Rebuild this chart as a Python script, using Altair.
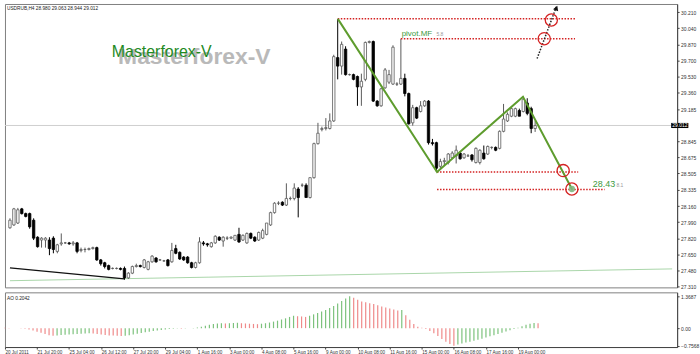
import altair as alt
import pandas as pd

# ---------------- data ----------------
opens = [27.93, 27.96, 27.98, 28.13, 28.08, 28.08, 28.01, 27.83, 27.80, 27.80,
         27.80, 27.82, 27.68, 27.76, 27.77, 27.77, 27.76, 27.77, 27.69, 27.70,
         27.70, 27.71, 27.72, 27.59, 27.56, 27.53, 27.50, 27.50, 27.50, 27.50,
         27.40, 27.45, 27.52, 27.53, 27.51, 27.49, 27.57, 27.61, 27.59, 27.58,
         27.59, 27.57, 27.71, 27.67, 27.62, 27.62, 27.56, 27.51, 27.56, 27.77,
         27.76, 27.73, 27.77, 27.83, 27.79, 27.82, 27.82, 27.80, 27.86, 27.80,
         27.77, 27.87, 27.83, 27.80, 27.82, 27.86, 27.96, 28.09, 28.19, 28.20,
         28.17, 28.24, 28.24, 28.34, 28.38, 28.38, 28.25, 28.46, 28.82, 28.97,
         28.98, 28.98, 29.06, 29.73, 29.64, 29.82, 29.55, 29.55, 29.53, 29.42,
         29.50, 29.89, 29.90, 29.27, 29.22, 29.41, 29.47, 29.45, 29.45, 29.45,
         29.51, 29.35, 29.04, 29.20, 29.16, 29.22, 29.27, 28.83, 28.83, 28.58,
         28.63, 28.62, 28.67, 28.69, 28.72, 28.67, 28.69, 28.70, 28.62, 28.62,
         28.72, 28.71, 28.78, 28.78, 28.77, 28.95, 29.06, 29.11, 29.11, 29.17,
         29.16, 29.25, 29.19, 28.98]
highs = [28.03, 28.14, 28.14, 28.14, 28.09, 28.09, 28.03, 27.84, 27.83, 27.83,
         27.83, 27.84, 27.76, 27.87, 27.78, 27.78, 27.79, 27.78, 27.72, 27.72,
         27.72, 27.73, 27.73, 27.60, 27.57, 27.54, 27.51, 27.51, 27.51, 27.52,
         27.46, 27.53, 27.55, 27.54, 27.60, 27.58, 27.64, 27.62, 27.60, 27.59,
         27.60, 27.77, 27.75, 27.68, 27.63, 27.63, 27.57, 27.57, 27.83, 27.79,
         27.77, 27.78, 27.85, 27.84, 27.84, 27.84, 27.84, 27.85, 27.93, 27.86,
         27.88, 27.88, 27.84, 27.89, 27.92, 27.98, 28.10, 28.20, 28.21, 28.21,
         28.40, 28.26, 28.40, 28.36, 28.40, 28.40, 28.46, 28.83, 29.04, 29.00,
         29.09, 29.14, 29.76, 30.14, 29.90, 29.85, 29.56, 29.56, 29.54, 29.56,
         29.90, 29.91, 29.91, 29.28, 29.41, 29.62, 29.60, 29.86, 29.47, 29.93,
         29.56, 29.36, 29.23, 29.21, 29.27, 29.28, 29.28, 28.87, 28.84, 28.66,
         28.67, 28.72, 28.74, 28.80, 28.74, 28.72, 28.71, 28.71, 28.78, 28.76,
         28.80, 28.80, 28.79, 28.79, 28.96, 29.24, 29.15, 29.20, 29.20, 29.19,
         29.32, 29.30, 29.21, 29.063]
lows = [27.92, 27.95, 27.97, 28.07, 28.04, 27.92, 27.80, 27.72, 27.72, 27.72,
        27.64, 27.66, 27.66, 27.74, 27.76, 27.75, 27.74, 27.66, 27.67, 27.67,
        27.69, 27.70, 27.58, 27.53, 27.50, 27.48, 27.49, 27.49, 27.48, 27.38,
        27.39, 27.44, 27.51, 27.51, 27.50, 27.48, 27.56, 27.56, 27.58, 27.57,
        27.52, 27.56, 27.65, 27.59, 27.58, 27.55, 27.50, 27.50, 27.55, 27.74,
        27.73, 27.72, 27.76, 27.79, 27.73, 27.80, 27.81, 27.79, 27.77, 27.79,
        27.76, 27.81, 27.78, 27.79, 27.81, 27.85, 27.95, 28.08, 28.17, 28.16,
        28.16, 28.22, 28.22, 28.04, 28.36, 28.25, 28.24, 28.45, 28.81, 28.95,
        28.96, 28.97, 29.05, 29.50, 29.55, 29.54, 29.54, 29.49, 29.22, 29.22,
        29.48, 29.88, 29.26, 29.21, 29.21, 29.40, 29.45, 29.44, 29.43, 29.44,
        29.32, 29.02, 29.01, 29.08, 29.15, 29.21, 28.81, 28.80, 28.52, 28.56,
        28.59, 28.60, 28.66, 28.61, 28.65, 28.66, 28.68, 28.63, 28.61, 28.60,
        28.65, 28.70, 28.76, 28.74, 28.76, 28.94, 29.05, 29.10, 29.10, 29.11,
        29.15, 29.12, 28.93, 28.944]
closes = [28.01, 28.13, 28.12, 28.08, 28.05, 27.94, 27.82, 27.73, 27.82, 27.82,
          27.71, 27.70, 27.75, 27.77, 27.77, 27.76, 27.77, 27.68, 27.70, 27.70,
          27.71, 27.72, 27.59, 27.55, 27.52, 27.49, 27.50, 27.50, 27.49, 27.40,
          27.45, 27.52, 27.53, 27.52, 27.59, 27.57, 27.63, 27.57, 27.59, 27.58,
          27.53, 27.69, 27.66, 27.60, 27.59, 27.56, 27.51, 27.56, 27.78, 27.76,
          27.75, 27.77, 27.84, 27.80, 27.83, 27.82, 27.83, 27.85, 27.78, 27.85,
          27.87, 27.82, 27.79, 27.88, 27.90, 27.98, 28.09, 28.19, 28.19, 28.17,
          28.24, 28.24, 28.35, 28.25, 28.38, 28.25, 28.46, 28.82, 28.93, 28.98,
          28.99, 29.06, 29.74, 29.64, 29.87, 29.55, 29.55, 29.50, 29.42, 29.48,
          29.89, 29.90, 29.27, 29.22, 29.40, 29.60, 29.55, 29.84, 29.45, 29.51,
          29.35, 29.03, 29.20, 29.09, 29.22, 29.27, 28.83, 28.82, 28.56, 28.63,
          28.64, 28.71, 28.72, 28.75, 28.66, 28.71, 28.69, 28.65, 28.77, 28.75,
          28.66, 28.79, 28.78, 28.75, 28.95, 29.08, 29.13, 29.19, 29.19, 29.11,
          29.29, 29.14, 28.98, 29.012]
ao_values = [0.02, 0.01, 0.0, -0.01, -0.02, -0.03, -0.06, -0.10, -0.15, -0.20,
             -0.25, -0.30, -0.33, -0.31, -0.29, -0.28, -0.27, -0.26, -0.25, -0.24,
             -0.23, -0.22, -0.23, -0.25, -0.27, -0.29, -0.31, -0.32, -0.33, -0.34,
             -0.33, -0.30, -0.27, -0.24, -0.21, -0.18, -0.15, -0.12, -0.10, -0.08,
             -0.06, -0.04, -0.03, -0.02, -0.025, -0.015, -0.005, 0.01, 0.03, 0.06,
             0.10, 0.14, 0.18, 0.20, 0.21, 0.20, 0.21, 0.22, 0.23, 0.21,
             0.20, 0.19, 0.18, 0.17, 0.19, 0.21, 0.24, 0.28, 0.32, 0.37,
             0.42, 0.48, 0.53, 0.51, 0.50, 0.48, 0.53, 0.59, 0.65, 0.71,
             0.78, 0.86, 0.95, 1.05, 1.16, 1.27, 1.3687, 1.30, 1.21, 1.14,
             1.11, 1.07, 1.03, 0.98, 0.93, 0.88, 0.84, 0.80, 0.76, 0.78,
             0.55, 0.36, 0.18, 0.06, 0.02, -0.04, -0.12, -0.22, -0.34, -0.46,
             -0.58, -0.68, -0.7568, -0.70, -0.66, -0.62, -0.58, -0.54, -0.50, -0.45,
             -0.40, -0.35, -0.30, -0.25, -0.20, -0.14, -0.09, -0.04, 0.02, 0.08,
             0.14, 0.19, 0.22, 0.2042]
date_labels = ["20 Jul 2011", "21 Jul 20:00", "25 Jul 04:00", "26 Jul 12:00",
               "27 Jul 20:00", "29 Jul 04:00", "1 Aug 16:00", "3 Aug 00:00",
               "4 Aug 08:00", "5 Aug 16:00", "9 Aug 00:00", "10 Aug 08:00",
               "11 Aug 16:00", "15 Aug 00:00", "16 Aug 08:00", "17 Aug 16:00",
               "19 Aug 00:00"]
price_ticks = [30.21, 30.04, 29.87, 29.70, 29.53, 29.36, 29.185, 28.845, 28.675,
               28.505, 28.335, 28.16, 27.99, 27.82, 27.65, 27.48, 27.31]
ao_ticks = [1.3687, 0.0, -0.7568]
last_price = [29.012]

# pattern annotations (bar index, price)
zig_bar = [83.03, 108.16, 129.92, 142.32]
zig_price = [30.14, 28.52, 29.315, 28.34]
lvl_from = [83.03, 99.0, 108.16, 108.16]
lvl_to = [143.1, 143.1, 143.9, 150.6]
lvl_price = [30.14, 29.93, 28.52, 28.335]
circ_bar = [137.1, 135.3, 140.1, 142.3]
circ_price = [30.128, 29.93, 28.535, 28.34]
target_bar = [142.3]
target_price = [28.34]
arrow_bar = [133.5, 138.4]
arrow_price = [29.72, 30.27]
support_bar = [0.0, 167.7]
support_price = [27.37, 27.495]
trend_bar = [0.0, 29.0]
trend_price = [27.506, 27.39]

FONT = "Liberation Sans"
xsc = alt.Scale(domain=[0, 167.7], nice=False, zero=False)
psc = alt.Scale(domain=[27.2995, 30.297], nice=False, zero=False)
asc = alt.Scale(domain=[-0.809, 1.532], nice=False, zero=False)

pax = alt.Axis(orient="right", values=price_ticks, format=".3f", title=None, grid=False,
               labelFontSize=5, labelFont=FONT, tickSize=2, labelPadding=1.5,
               domainColor="#444", tickColor="#444", labelColor="#333",
               labelFlush=False, labelOverlap=False)


def X(f):
    return alt.X(f, type="quantitative", scale=xsc, axis=None)


def P(f):
    return alt.Y(f, type="quantitative", scale=psc, axis=pax)


n = len(opens)
cdf = pd.DataFrame({"i": list(range(n)), "open": opens, "high": highs,
                    "low": lows, "close": closes})
up = cdf[cdf["close"] >= cdf["open"]]
dn = cdf[cdf["close"] < cdf["open"]]

layers = []

# support line, watermark shadow, current price line, trend line
layers.append(alt.Chart(pd.DataFrame({"i": support_bar, "p": support_price}))
              .mark_line(color="#a9d6a9", strokeWidth=1).encode(x=X("i"), y=P("p")))
layers.append(alt.Chart(pd.DataFrame({"t": ["Masterforex-V"], "i": [66.0], "p": [29.66]}))
              .mark_text(font=FONT, fontSize=23, fontWeight="bold", color="#a8a8a8",
                         opacity=0.8, align="right", baseline="alphabetic")
              .encode(x=X("i"), y=P("p"), text="t:N"))
layers.append(alt.Chart(pd.DataFrame({"p": last_price}))
              .mark_rule(color="#cfcfcf", strokeWidth=1).encode(y=P("p")))
layers.append(alt.Chart(pd.DataFrame({"i": trend_bar, "p": trend_price}))
              .mark_line(color="#111111", strokeWidth=1.3).encode(x=X("i"), y=P("p")))

# candles
layers.append(alt.Chart(up).mark_rule(color="#5a5a5a", strokeWidth=1)
              .encode(x=X("i"), y=P("low"), y2=alt.Y2("high")))
layers.append(alt.Chart(dn).mark_rule(color="#000000", strokeWidth=1)
              .encode(x=X("i"), y=P("low"), y2=alt.Y2("high")))
layers.append(alt.Chart(up).mark_bar(size=2.4, fill="#ffffff", stroke="#5a5a5a", strokeWidth=0.8)
              .encode(x=X("i"), y=P("open"), y2=alt.Y2("close")))
layers.append(alt.Chart(dn).mark_bar(size=2.4, fill="#000000", stroke="#000000", strokeWidth=0.8)
              .encode(x=X("i"), y=P("open"), y2=alt.Y2("close")))

# levels
layers.append(alt.Chart(pd.DataFrame({"a": lvl_from, "b": lvl_to, "p": lvl_price}))
              .mark_rule(color="#d42222", strokeWidth=1.5, strokeDash=[1.5, 1.5])
              .encode(x=X("a"), x2=alt.X2("b"), y=P("p")))
# zigzag
layers.append(alt.Chart(pd.DataFrame({"i": zig_bar, "p": zig_price}))
              .mark_line(color="#5e9c2e", strokeWidth=2).encode(x=X("i"), y=P("p")))
# arrow
layers.append(alt.Chart(pd.DataFrame({"i": arrow_bar, "p": arrow_price}))
              .mark_line(color="#222222", strokeWidth=1.5, strokeDash=[1.5, 1.5])
              .encode(x=X("i"), y=P("p")))
layers.append(alt.Chart(pd.DataFrame({"i": arrow_bar[1:], "p": [30.255]}))
              .mark_point(shape="triangle-up", filled=True, color="#111111", size=30, angle=21, opacity=1)
              .encode(x=X("i"), y=P("p")))
# circles
layers.append(alt.Chart(pd.DataFrame({"i": target_bar, "p": target_price}))
              .mark_point(shape="circle", filled=True, color="#7fb87f", size=40, opacity=0.9)
              .encode(x=X("i"), y=P("p")))
layers.append(alt.Chart(pd.DataFrame({"i": circ_bar, "p": circ_price}))
              .mark_point(shape="circle", filled=False, color="#d42222", size=150, strokeWidth=1.3, opacity=1)
              .encode(x=X("i"), y=P("p")))

# texts
layers.append(alt.Chart(pd.DataFrame({"t": ["Masterforex-V"], "i": [25.8], "p": [29.74]}))
              .mark_text(font=FONT, fontSize=16, color="#1f8a1f", align="left", baseline="alphabetic")
              .encode(x=X("i"), y=P("p"), text="t:N"))
layers.append(alt.Chart(pd.DataFrame({"t": ["pivot.MF"], "i": [99.2], "p": [29.963]}))
              .mark_text(font=FONT, fontSize=8, color="#3c9a3c", align="left", baseline="alphabetic")
              .encode(x=X("i"), y=P("p"), text="t:N"))
layers.append(alt.Chart(pd.DataFrame({"t": ["5.8"], "i": [108.0], "p": [29.955]}))
              .mark_text(font=FONT, fontSize=5, color="#999999", align="left", baseline="alphabetic")
              .encode(x=X("i"), y=P("p"), text="t:N"))
layers.append(alt.Chart(pd.DataFrame({"t": ["28.43"], "i": [147.6], "p": [28.357]}))
              .mark_text(font=FONT, fontSize=9, color="#3c9a3c", align="left", baseline="alphabetic")
              .encode(x=X("i"), y=P("p"), text="t:N"))
layers.append(alt.Chart(pd.DataFrame({"t": ["8.1"], "i": [153.6], "p": [28.36]}))
              .mark_text(font=FONT, fontSize=5, color="#999999", align="left", baseline="alphabetic")
              .encode(x=X("i"), y=P("p"), text="t:N"))
layers.append(alt.Chart(pd.DataFrame({"t": ["USDRUB,H4  28.980 29.063 28.944 29.012"]}))
              .mark_text(font=FONT, fontSize=4.8, color="#222222", align="left", baseline="middle")
              .encode(x=alt.value(2), y=alt.value(5), text="t:N"))

# current price box on the axis
layers.append(alt.Chart(pd.DataFrame({"a": [167.45], "b": [171.8], "p1": [28.985], "p2": [29.039]}))
              .mark_rect(color="#000000").encode(x=X("a"), x2=alt.X2("b"), y=P("p1"), y2=alt.Y2("p2")))
layers.append(alt.Chart(pd.DataFrame({"t": ["29.012"], "i": [167.75], "p": last_price}))
              .mark_text(font=FONT, fontSize=5, color="#ffffff", align="left", baseline="middle")
              .encode(x=X("i"), y=P("p"), text="t:N"))

main = alt.layer(*layers).properties(width=676, height=285)

# ---------------- AO panel ----------------
adf = pd.DataFrame({"i": list(range(n)), "ao": ao_values, "zero": [0.0] * n})
inc = [False] + [ao_values[k] > ao_values[k - 1] for k in range(1, n)]
adf["inc"] = inc

label_expr = "[" + ",".join("'" + s + "'" for s in date_labels) + "][round(datum.value / 8)]"
xax = alt.Axis(values=[8 * k for k in range(len(date_labels))], labelExpr=label_expr,
               labelAlign="left", labelFontSize=4.6, labelFont=FONT, tickSize=2,
               labelPadding=1, domainColor="#444", tickColor="#444", labelColor="#333",
               grid=False, title=None, labelOverlap=False, labelFlush=False)
aax = alt.Axis(orient="right", values=ao_ticks, title=None, grid=False,
               labelExpr="datum.value == 0 ? '0.00' : format(datum.value, '.4f')",
               labelFontSize=5, labelFont=FONT, tickSize=2, labelPadding=1.5,
               domainColor="#444", tickColor="#444", labelColor="#333",
               labelFlush=False, labelOverlap=False)

AX = alt.X("i:Q", scale=xsc, axis=xax)
AY = alt.Y("ao:Q", scale=asc, axis=aax)

ao_g = alt.Chart(adf[adf["inc"]]).mark_rule(color="#7cc27c", strokeWidth=1.2).encode(
    x=AX, y=AY, y2=alt.Y2("zero"))
ao_r = alt.Chart(adf[~adf["inc"]]).mark_rule(color="#ef8a8a", strokeWidth=1.2).encode(
    x=AX, y=AY, y2=alt.Y2("zero"))
ao_t = alt.Chart(pd.DataFrame({"t": ["AO 0.2042"]})).mark_text(
    font=FONT, fontSize=4.8, color="#222222", align="left", baseline="middle").encode(
    x=alt.value(2), y=alt.value(7), text="t:N")

aoc = alt.layer(ao_g, ao_r, ao_t).properties(width=676, height=55)

chart = alt.vconcat(main, aoc, spacing=1).properties(
    padding={"left": 3, "top": 2, "right": 0, "bottom": 0},
    background="#ffffff",
).configure_view(stroke="#808080", strokeWidth=1)

chart.save("out.html", embed_options={"renderer": "svg", "actions": False})
